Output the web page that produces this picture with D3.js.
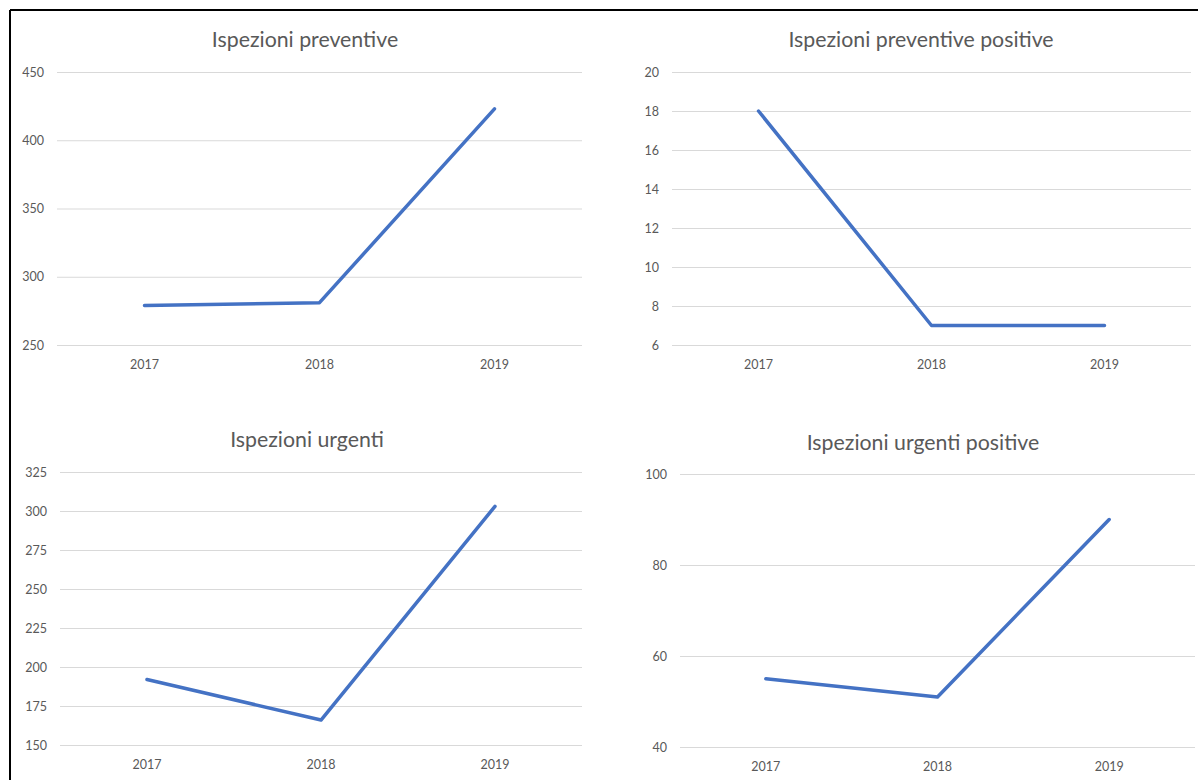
<!DOCTYPE html>
<html><head><meta charset="utf-8">
<script src="https://cdn.jsdelivr.net/npm/d3@7"></script>
<style>
html,body{margin:0;padding:0;background:#fff;}
svg{display:block;}
</style></head>
<body>
<svg id="c" width="1198" height="780"></svg>
<script>
const years = ["2017", "2018", "2019"];
const preventive = [279, 281, 423];
const preventivePositive = [18, 7, 7];
const urgent = [192, 166, 303];
const urgentPositive = [55, 51, 90];

const titles = ["Ispezioni preventive", "Ispezioni preventive positive", "Ispezioni urgenti", "Ispezioni urgenti positive"];
const yTicksPreventive = [250, 300, 350, 400, 450];
const yTicksPreventivePositive = [6, 8, 10, 12, 14, 16, 18, 20];
const yTicksUrgent = [150, 175, 200, 225, 250, 275, 300, 325];
const yTicksUrgentPositive = [40, 60, 80, 100];

const panels = [
  {title: titles[0], values: preventive, ticks: yTicksPreventive, x0: 57, x1: 582, y0: 345, y1: 72, tx: 305, ty: 40},
  {title: titles[1], values: preventivePositive, ticks: yTicksPreventivePositive, x0: 672, x1: 1191, y0: 345, y1: 72, tx: 921, ty: 40},
  {title: titles[2], values: urgent, ticks: yTicksUrgent, x0: 60, x1: 582, y0: 745, y1: 472, tx: 307, ty: 440},
  {title: titles[3], values: urgentPositive, ticks: yTicksUrgentPositive, x0: 680, x1: 1195, y0: 747, y1: 474, tx: 923, ty: 443}
];

const svg = d3.select("#c");
const FONT = "Lato, 'Open Sans', sans-serif";
const TXT = "#595959";

// frame
svg.append("line").attr("x1", 10).attr("x2", 1198).attr("y1", 10).attr("y2", 10)
  .attr("stroke", "#000").attr("stroke-width", 2);
svg.append("line").attr("x1", 10).attr("x2", 10).attr("y1", 10).attr("y2", 780)
  .attr("stroke", "#000").attr("stroke-width", 2);

panels.forEach(p => {
  const g = svg.append("g");
  const x = d3.scaleBand().domain(years).range([p.x0, p.x1]);
  const y = d3.scaleLinear().domain(d3.extent(p.ticks)).range([p.y0, p.y1]);

  const yAxis = d3.axisLeft(y).tickValues(p.ticks).tickSize(-(p.x1 - p.x0)).tickPadding(13);
  const ya = g.append("g").attr("transform", `translate(${p.x0},0)`).call(yAxis);
  ya.select(".domain").remove();
  ya.selectAll(".tick line").attr("stroke", "#d9d9d9").attr("stroke-width", 1);
  ya.selectAll(".tick text").attr("fill", TXT).attr("font-family", FONT).attr("font-size", 12.5);

  const xAxis = d3.axisBottom(x).tickSize(0).tickPadding(15);
  const xa = g.append("g").attr("transform", `translate(0,${p.y0})`).call(xAxis);
  xa.select(".domain").remove();
  xa.selectAll(".tick text").attr("fill", TXT).attr("font-family", FONT).attr("font-size", 12.5);

  const line = d3.line().x((d, i) => x(years[i]) + x.bandwidth() / 2).y(d => y(d));
  g.append("path").datum(p.values).attr("d", line)
    .attr("fill", "none").attr("stroke", "#4472C4").attr("stroke-width", 3.5)
    .attr("stroke-linejoin", "round").attr("stroke-linecap", "round");

  g.append("text").attr("x", p.tx).attr("y", p.ty).attr("dy", "0.35em")
    .attr("text-anchor", "middle").attr("fill", TXT).attr("font-family", FONT)
    .attr("font-size", 21.3).text(p.title);
});
</script>
</body></html>
